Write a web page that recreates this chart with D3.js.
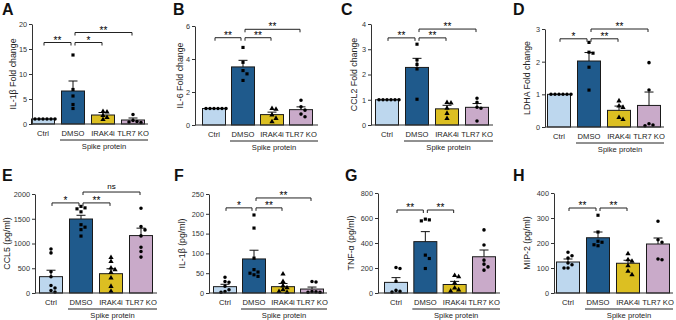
<!DOCTYPE html>
<html><head><meta charset="utf-8">
<script src="https://cdn.jsdelivr.net/npm/d3@7"></script>
<style>
html,body{margin:0;padding:0;background:#fff;}
svg{display:block;font-family:"Liberation Sans",Arial,sans-serif;}
</style></head>
<body>
<svg id="chart" width="676" height="320"></svg>
<script>
// ---------------- DATA ----------------
const groups = ["Ctrl", "DMSO", "IRAK4i", "TLR7 KO"];
const spikeLabel = "Spike protein";

// Panel A: IL-1β fold change
const aLabel = "IL-1β Fold change";
const aTicks = [0, 5, 10, 15, 20];
const aMeans = [1.0, 6.6, 1.8, 0.8];
const aSem = [0, 2.0, 0.5, 0.4];
const aPoints = [[1,1,1,1,1,1],[13.8,6.9,5.6,3.9,3.1],[2.5,2.4,1.7,1.3,0.9],[1.9,0.7,0.5,0.4,0.3]];
const aSig = [[0,1,"**",16.3],[1,2,"*",16.3],[1,3,"**",18.3]];

// Panel B: IL-6 fold change
const bLabel = "IL-6 Fold change";
const bTicks = [0, 2, 4, 6];
const bMeans = [1.0, 3.52, 0.63, 0.93];
const bSem = [0, 0.4, 0.15, 0.17];
const bPoints = [[1,1,1,1,1,1],[4.7,3.8,3.3,3.1,2.7],[1.0,0.95,0.6,0.4,0.2],[1.5,1.1,0.9,0.66,0.5]];
const bSig = [[0,1,"**",5.29],[1,2,"**",5.29],[1,3,"**",5.8]];

// Panel C: CCL2 fold change
const cLabel = "CCL2 Fold change";
const cTicks = [0, 1, 2, 3, 4];
const cMeans = [1.0, 2.28, 0.64, 0.70];
const cSem = [0, 0.36, 0.14, 0.15];
const cPoints = [[1,1,1,1,1,1],[3.2,2.58,2.4,2.22,1.02],[0.89,0.87,0.66,0.46,0.26],[1.06,0.9,0.7,0.66,0.16]];
const cSig = [[0,1,"**",3.45],[1,2,"**",3.45],[1,3,"**",3.8]];

// Panel D: LDHA fold change
const dLabel = "LDHA Fold change";
const dTicks = [0, 1, 2, 3];
const dMeans = [1.0, 2.02, 0.51, 0.66];
const dSem = [0, 0.26, 0.13, 0.41];
const dPoints = [[1,1,1,1,1,1],[2.59,2.29,2.26,1.83,1.13],[0.8,0.64,0.6,0.29,0.23],[1.97,1.13,0.1,0.06,0.04]];
const dSig = [[0,1,"*",2.7],[1,2,"**",2.7],[1,3,"**",3.0]];

// Panel E: CCL5 (pg/ml)
const eLabel = "CCL5 (pg/ml)";
const eTicks = [0, 500, 1000, 1500, 2000];
const eMeans = [330, 1495, 390, 1160];
const eSem = [130, 75, 100, 150];
const ePoints = [[890,810,430,330,150,100,50,20],[1750,1720,1700,1640,1380,1330,1280,1150],[718,638,503,470,416,302,134,34],[1711,1342,1275,1154,926,839,725]];
const eSig = [[0,1,"*",1820],[1,2,"**",1820],[1,3,"ns",2040]];

// Panel F: IL-1β (pg/ml)
const fLabel = "IL-1β (pg/ml)";
const fTicks = [0, 50, 100, 150, 200, 250];
const fMeans = [16, 86, 16, 10];
const fSem = [6, 22, 8, 5];
const fPoints = [[40,29,27,17,8,4,2],[197,164,88,59,53,50,46,42],[48,29,18,13,8,4,2],[29,28,4,3,2,2]];
const fSig = [[0,1,"*",215],[1,2,"**",215],[1,3,"**",240]];

// Panel G: TNF-α (pg/ml)
const gLabel = "TNF-α (pg/ml)";
const gTicks = [0, 200, 400, 600, 800];
const gMeans = [85, 411, 68, 290];
const gSem = [38, 80, 25, 54];
const gPoints = [[204,196,94,21,13,8],[591,585,577,303,276,196],[140,130,80,40,25,15],[505,384,263,231,209,183]];
const gSig = [[0,1,"**",664],[1,2,"**",664]];

// Panel H: MIP-2 (pg/ml)
const hLabel = "MIP-2 (pg/ml)";
const hTicks = [0, 100, 200, 300, 400];
const hMeans = [124, 221, 119, 196];
const hSem = [12, 23, 12, 24];
const hPoints = [[163,149,140,120,113,100,100],[311,244,207,203,193,189],[157,133,127,109,87,73],[287,213,203,136,133]];
const hSig = [[0,1,"**",340],[1,2,"**",340]];

// ---------------- STYLE / LAYOUT ----------------
const fills = ["#bdd7ee", "#1f5a8c", "#dcbf22", "#c9aac9"];
const symbols = [d3.symbolCircle, d3.symbolSquare, d3.symbolTriangle, d3.symbolCircle];

const panels = [
  {letter:"A", lx:2,   ly:15,  label:aLabel, ticks:aTicks, means:aMeans, sem:aSem, pts:aPoints, sig:aSig, ax:32,  c0:43,  c3:133, xEnd:148, top:24,  bottom:124, labX:14},
  {letter:"B", lx:173, ly:15,  label:bLabel, ticks:bTicks, means:bMeans, sem:bSem, pts:bPoints, sig:bSig, ax:195, c0:214, c3:301, xEnd:318, top:26,  bottom:125, labX:181},
  {letter:"C", lx:341, ly:15,  label:cLabel, ticks:cTicks, means:cMeans, sem:cSem, pts:cPoints, sig:cSig, ax:371, c0:387, c3:477, xEnd:493, top:24,  bottom:125, labX:355},
  {letter:"D", lx:513, ly:15,  label:dLabel, ticks:dTicks, means:dMeans, sem:dSem, pts:dPoints, sig:dSig, ax:545, c0:559, c3:649, xEnd:664, top:29,  bottom:127, labX:528},
  {letter:"E", lx:2,   ly:181, label:eLabel, ticks:eTicks, means:eMeans, sem:eSem, pts:ePoints, sig:eSig, ax:35,  c0:51,  c3:141, xEnd:157, top:194, bottom:293, labX:8},
  {letter:"F", lx:174, ly:181, label:fLabel, ticks:fTicks, means:fMeans, sem:fSem, pts:fPoints, sig:fSig, ax:209, c0:225, c3:312, xEnd:327, top:194, bottom:293, labX:183},
  {letter:"G", lx:345, ly:181, label:gLabel, ticks:gTicks, means:gMeans, sem:gSem, pts:gPoints, sig:gSig, ax:378, c0:396, c3:484, xEnd:500, top:193, bottom:293, labX:352},
  {letter:"H", lx:513, ly:181, label:hLabel, ticks:hTicks, means:hMeans, sem:hSem, pts:hPoints, sig:hSig, ax:554, c0:568, c3:658, xEnd:673, top:193, bottom:293, labX:528}
];

const svg = d3.select("#chart");
const barW = 23;

function beeswarm(vals, y, cx, maxOff) {
  const placed = [];
  const order = vals.map((v,i)=>({v,i})).sort((a,b)=>b.v-a.v);
  const step = 4;
  order.forEach(o => {
    const py = y(o.v);
    let k = 0, px = cx;
    while (true) {
      const off = k === 0 ? 0 : (k % 2 ? 1 : -1) * Math.ceil(k/2) * step;
      px = cx + off;
      const ok = placed.every(p => (p.x-px)**2 + (p.y-py)**2 >= step*step*0.9);
      if (ok || Math.abs(off) > maxOff) break;
      k++;
    }
    placed.push({x:px, y:py, v:o.v});
  });
  return placed;
}

panels.forEach(p => {
  const g = svg.append("g");
  const y = d3.scaleLinear().domain([0, d3.max(p.ticks)]).range([p.bottom, p.top]);
  const x = d3.scalePoint().domain(groups).range([p.c0, p.c3]);

  // letter
  svg.append("text").attr("x", p.lx).attr("y", p.ly).text(p.letter)
    .attr("font-size", 16).attr("font-weight", "bold").attr("fill", "#111");

  // y label
  g.append("text")
    .attr("transform", `translate(${p.labX},${(p.top+p.bottom)/2}) rotate(-90)`)
    .attr("text-anchor", "middle").attr("dominant-baseline", "middle")
    .attr("font-size", 8.8).attr("fill", "#222").text(p.label);

  // bars
  g.selectAll("rect.bar").data(p.means).join("rect")
    .attr("x", (d,i) => x(groups[i]) - barW/2)
    .attr("y", d => y(d))
    .attr("width", barW)
    .attr("height", d => p.bottom - y(d))
    .attr("fill", (d,i) => fills[i])
    .attr("stroke", "#1a1a1a").attr("stroke-width", 1);

  // error bars (mean + SEM)
  p.means.forEach((m,i) => {
    if (!p.sem[i]) return;
    const cx = x(groups[i]);
    g.append("line").attr("x1", cx).attr("x2", cx).attr("y1", y(m)).attr("y2", y(m + p.sem[i]))
      .attr("stroke", "#111").attr("stroke-width", 1);
    g.append("line").attr("x1", cx-4.5).attr("x2", cx+4.5).attr("y1", y(m + p.sem[i])).attr("y2", y(m + p.sem[i]))
      .attr("stroke", "#111").attr("stroke-width", 1);
  });

  // points
  p.pts.forEach((vals,i) => {
    const pl = beeswarm(vals, y, x(groups[i]), barW/2 - 1);
    g.selectAll(null).data(pl).join("path")
      .attr("transform", d => `translate(${d.x},${d.y})`)
      .attr("d", d3.symbol().type(symbols[i]).size(i === 2 ? 12 : 10))
      .attr("fill", "#000");
  });

  // y axis
  const ya = g.append("g").attr("transform", `translate(${p.ax},0)`)
    .call(d3.axisLeft(y).tickValues(p.ticks).tickFormat(d3.format("d")).tickSize(3).tickSizeOuter(0).tickPadding(2));
  ya.select(".domain").attr("stroke", "#333");
  ya.selectAll(".tick line").attr("stroke", "#333");
  ya.selectAll(".tick text").attr("font-size", 7.3).attr("fill", "#333")
    .attr("font-family", '"Liberation Sans",Arial,sans-serif');

  // x axis baseline
  g.append("line").attr("x1", p.ax).attr("x2", p.xEnd).attr("y1", p.bottom).attr("y2", p.bottom)
    .attr("stroke", "#333").attr("stroke-width", 1);

  // category labels
  g.selectAll("text.cat").data(groups).join("text")
    .attr("x", d => x(d)).attr("y", p.bottom + 12)
    .attr("text-anchor", "middle").attr("font-size", 7.6).attr("fill", "#222").text(d => d);

  // spike protein underline
  const us = x("DMSO") - 13;
  g.append("line").attr("x1", us).attr("x2", p.xEnd).attr("y1", p.bottom + 16).attr("y2", p.bottom + 16)
    .attr("stroke", "#222").attr("stroke-width", 1);
  g.append("text").attr("x", (us + p.xEnd)/2).attr("y", p.bottom + 24.5)
    .attr("text-anchor", "middle").attr("font-size", 7.6).attr("fill", "#222").text(spikeLabel);

  // significance brackets
  p.sig.forEach(s => {
    const x1 = x(groups[s[0]]) + (s[0] === 1 ? 2 : 1);
    const x2 = x(groups[s[1]]) - (s[1] === 1 ? 2 : 1);
    const yy = y(s[3]);
    g.append("path").attr("d", `M${x1},${yy+3}V${yy}H${x2}V${yy+3}`)
      .attr("fill", "none").attr("stroke", "#222").attr("stroke-width", 1);
    g.append("text").attr("x", (x1+x2)/2).attr("y", s[2] === "ns" ? yy - 3 : yy + 1)
      .attr("text-anchor", "middle").attr("font-size", s[2] === "ns" ? 8 : 10)
      .attr("fill", "#000").text(s[2]);
  });
});
</script>
</body></html>
